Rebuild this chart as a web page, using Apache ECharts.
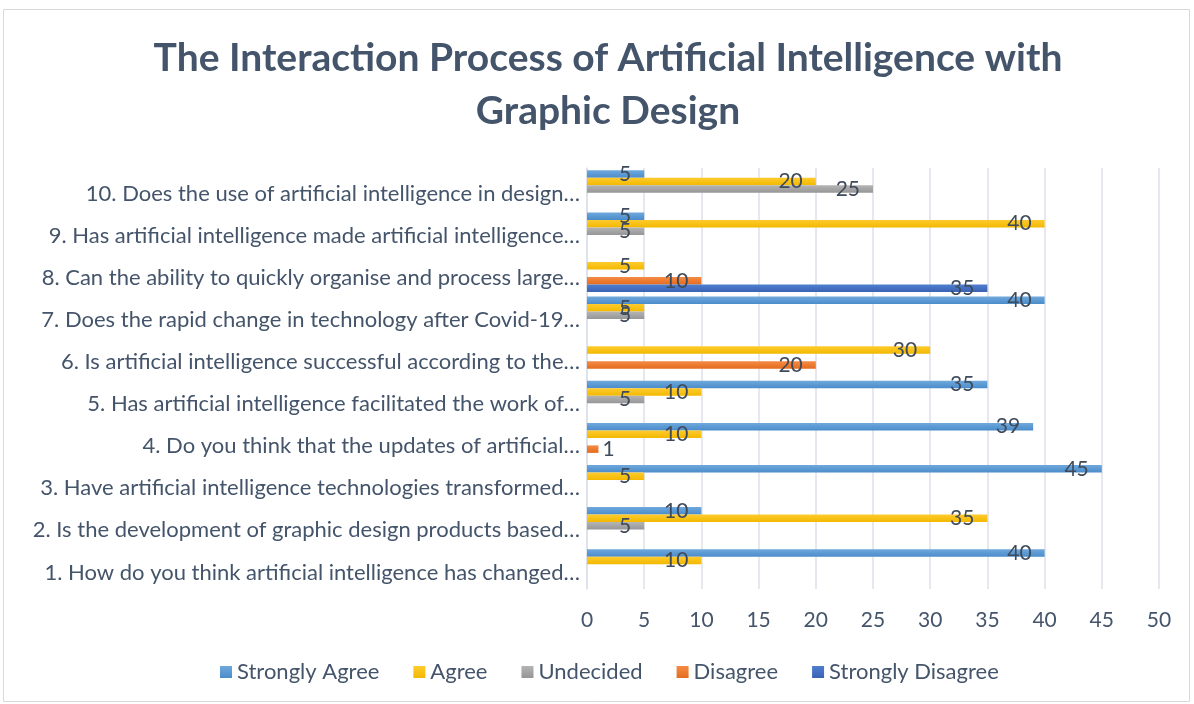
<!DOCTYPE html>
<html>
<head>
<meta charset="utf-8">
<script src="https://cdn.jsdelivr.net/npm/echarts@6/dist/echarts.min.js"></script>
<style>
  html, body { margin: 0; padding: 0; background: #fff; }
  #chart { width: 1194px; height: 704px; }
</style>
</head>
<body>
<div id="chart"></div>
<script>
// questions, bottom (1) to top (10), truncated as in the source
var questions = [
  '1. How do you think artificial intelligence has changed…',
  '2. Is the development of graphic design products based…',
  '3. Have artificial intelligence technologies transformed…',
  '4. Do you think that the updates of artificial…',
  '5. Has artificial intelligence facilitated the work of…',
  '6. Is artificial intelligence successful according to the…',
  '7. Does the rapid change in technology after Covid-19…',
  '8. Can the ability to quickly organise and process large…',
  '9. Has artificial intelligence made artificial intelligence…',
  '10. Does the use of artificial intelligence in design…'
];

var seriesNames = ['Strongly Agree', 'Agree', 'Undecided', 'Disagree', 'Strongly Disagree'];

var stronglyAgree    = [40, 10, 45, 39, 35, 0, 40, 0, 5, 5];
var agree            = [10, 35, 5, 10, 10, 30, 5, 5, 40, 20];
var undecided        = [0, 5, 0, 0, 5, 0, 5, 0, 5, 25];
var disagree         = [0, 0, 0, 1, 0, 20, 0, 10, 0, 0];
var stronglyDisagree = [0, 0, 0, 0, 0, 0, 0, 35, 0, 0];

var xTicks = [0, 5, 10, 15, 20, 25, 30, 35, 40, 45, 50];

var textColor = '#44546A';
var fontFam = 'Lato, "Open Sans", sans-serif';

var colors = [
  ['#6FA8DC', '#4A8CCB'],
  ['#FFCB2E', '#F2B800'],
  ['#B4B4B4', '#969696'],
  ['#F58B45', '#E36C1E'],
  ['#4F7FCF', '#3A62B3']
];

function grad(c) {
  return new echarts.graphic.LinearGradient(0, 0, 0, 1, [
    { offset: 0, color: c[0] },
    { offset: 1, color: c[1] }
  ]);
}

// tiny bars get their label outside
function toItems(arr) {
  return arr.map(function (v) {
    if (v > 0 && v < 3) {
      return { value: v, label: { position: 'right', distance: 4 } };
    }
    return v;
  });
}

var allData = [stronglyAgree, agree, undecided, disagree, stronglyDisagree];

var series = seriesNames.map(function (name, i) {
  return {
    name: name,
    type: 'bar',
    data: toItems(allData[i]),
    barGap: '0%',
    barCategoryGap: '11%',
    itemStyle: { color: grad(colors[i]) },
    label: {
      show: true,
      position: 'insideRight',
      distance: 13,
      color: '#3F4B5B',
      fontFamily: fontFam,
      fontSize: 21,
      formatter: function (p) { return p.value ? String(p.value) : ''; }
    }
  };
});

var chart = echarts.init(document.getElementById('chart'));
chart.setOption({
  animation: false,
  color: colors.map(function (c) { return c[1]; }),
  title: {
    text: 'The Interaction Process of Artificial Intelligence with\nGraphic Design',
    left: 603,
    textAlign: 'center',
    top: 27,
    textStyle: {
      color: textColor,
      fontFamily: fontFam,
      fontWeight: 'bold',
      fontSize: 39,
      lineHeight: 53
    }
  },
  graphic: [{
    type: 'rect',
    shape: { x: 3.5, y: 9.5, width: 1186, height: 692 },
    style: { fill: 'none', stroke: '#D9D9D9', lineWidth: 1 },
    silent: true
  }],
  legend: {
    bottom: 16,
    left: 215,
    itemWidth: 12,
    itemHeight: 12,
    itemGap: 34,
    icon: 'rect',
    textStyle: { color: textColor, fontFamily: fontFam, fontSize: 22 },
    data: seriesNames
  },
  grid: { left: 587, right: 35, top: 168, bottom: 115 },
  xAxis: {
    type: 'value',
    min: xTicks[0],
    max: xTicks[xTicks.length - 1],
    interval: 5,
    axisLine: { show: false },
    axisTick: { show: false },
    axisLabel: { color: textColor, fontFamily: fontFam, fontSize: 21, margin: 21 },
    splitLine: { lineStyle: { color: '#DDE2EA', width: 1.5 } }
  },
  yAxis: {
    type: 'category',
    data: questions,
    axisLine: { show: true, lineStyle: { color: '#DDE2EA', width: 1.5 } },
    axisTick: { show: false },
    axisLabel: {
      color: textColor,
      fontFamily: fontFam,
      fontSize: 22,
      margin: 7,
      verticalAlign: 'top',
      lineHeight: 9
    }
  },
  series: series
});
</script>
</body>
</html>
